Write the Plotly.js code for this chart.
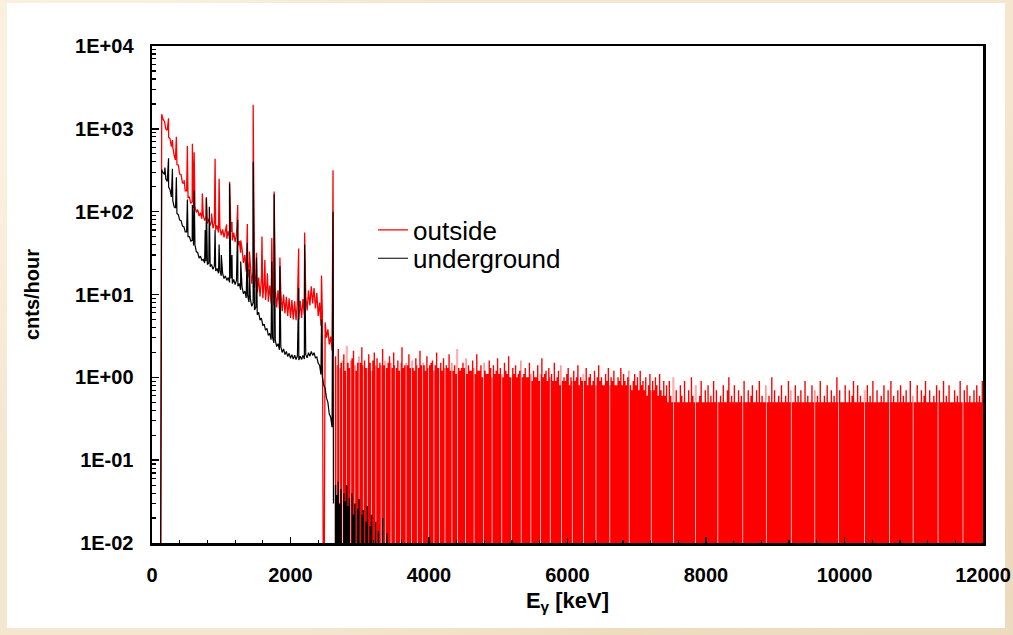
<!DOCTYPE html>
<html>
<head>
<meta charset="utf-8">
<script src="https://cdn.plot.ly/plotly-3.0.1.min.js"></script>
<style>
  html, body { margin: 0; padding: 0; width: 1013px; height: 635px; overflow: hidden; }
  body {
    background-color: #f4e6cf;
    background-image:
      radial-gradient(circle at 8% 15%, rgba(255,250,238,0.7), rgba(255,250,238,0) 35%),
      radial-gradient(circle at 95% 85%, rgba(228,204,168,0.55), rgba(228,204,168,0) 40%),
      radial-gradient(circle at 60% 100%, rgba(236,214,180,0.5), rgba(236,214,180,0) 35%);
  }
  #card { position: absolute; left: 7px; top: 3px; width: 998px; height: 625px; background: #ffffff; }
  #chart { position: absolute; left: 0; top: 0; width: 1013px; height: 635px; }
</style>
</head>
<body>
<div id="card"></div>
<div id="chart"></div>
<script>
// ---- energy grid (keV) for the binned spectra ----
const gridStep = 20;
const lowStartE = 120;   // first bin of the low-energy part
const highStartE = 2640; // first bin of the high-energy part

// ---- "outside" spectrum, cnts/hour, 120 ... 2620 keV (alternating values = noise band) ----
const outsideLow = [
  0, 1500, 1300, 1230, 1000, 960, 790, 760, 610, 600,
  480, 470, 370, 365, 285, 280, 222, 220, 178, 178,
  148, 150, 126, 132, 110, 116, 98, 106, 89, 97,
  82, 91, 78, 86, 72, 82, 68, 77, 63, 72,
  60, 68, 56, 64, 52, 61, 49, 59, 47, 58,
  47, 57, 45, 56, 43, 53, 39, 44, 32, 36,
  24, 30, 19, 25, 16, 21.5, 13.5, 19, 12, 17,
  10.5, 16, 9.5, 15, 9, 14, 8.6, 13.4, 8.2, 12.8,
  7.8, 12.2, 7.4, 11.6, 7, 11.2, 6.7, 10.6, 6.3, 10,
  5.9, 9.4, 5.5, 9, 5.2, 8.6, 5, 8.3, 4.9, 8.2,
  5, 8.4, 5.2, 8.8, 5.7, 9.6, 6.4, 11.2, 7.4, 12.6,
  7.8, 12, 6.8, 10.4, 5.5, 8, 4.2, 5.9, 0, 4.6,
  3, 3.8, 2.5, 3.1, 2.1, 1.9];

// ---- "underground" spectrum, cnts/hour, 120 ... 2620 keV ----
const undergroundLow = [
  0, 320, 295, 282, 248, 232, 198, 184, 150, 136,
  114, 111, 95, 92, 79, 78, 67, 66, 57, 57,
  50, 50, 44, 45, 39, 40, 33, 32, 27.5, 29,
  25.8, 26.5, 24, 25.2, 23, 24, 21.6, 23, 20.2, 22,
  19.2, 20.6, 18, 19.4, 16.8, 18, 15.6, 16.8, 14.8, 16,
  14, 15.6, 13.6, 15.2, 13.2, 14.8, 12.6, 13.6, 11.4, 12.4,
  10.2, 11, 9.1, 9.9, 8.1, 8.9, 7.2, 7.9, 6.5, 7,
  5.7, 6.1, 4.9, 5.2, 4.2, 4.4, 3.7, 3.9, 3.2, 3.4,
  2.85, 3.05, 2.6, 2.8, 2.35, 2.55, 2.15, 2.35, 2.0, 2.2,
  1.88, 2.05, 1.78, 1.95, 1.7, 1.88, 1.66, 1.85, 1.64, 1.82,
  1.62, 1.8, 1.64, 1.84, 1.66, 1.88, 1.72, 1.98, 1.8, 2.06,
  1.84, 1.98, 1.72, 1.76, 1.48, 1.4, 1.08, 1.02, 0.8, 0.74,
  0.56, 0.5, 0.36, 0.33, 0.25, 0.03];

// ---- gamma lines (keV) and their heights, cnts/hour (0 = not seen) ----
const peakE =           [186, 239, 295, 338, 352, 463, 511, 583, 609, 727, 768, 785, 828, 860, 911, 969, 1001, 1078, 1120, 1155, 1238, 1281, 1377, 1407, 1461, 1509, 1588, 1630, 1667, 1730, 1764, 1847, 2118, 2204, 2448, 2614];
const peakOutside =     [0, 1340, 730, 420, 800, 240, 620, 660, 520, 166, 0, 150, 0, 95, 435, 250, 0, 70, 230, 75, 120, 45, 71, 33, 1950, 32, 50, 26, 18, 48, 175, 28, 36, 56, 17, 316];
const peakUnderground = [340, 440, 330, 0, 260, 0, 140, 120, 180, 0, 60, 145, 115, 0, 60, 40, 30, 0, 218, 30, 80, 25, 42, 20, 400, 28, 0, 0, 0, 25, 162, 22, 12, 40, 5, 100];

// ---- "outside" spectrum, cnts/hour, 2640 ... 12000 keV ----
const outsideHigh = [
  1.8, 1.4, 2.2, 1.3, 1.5, 1.6, 1.9, 1.2, 2.4, 1.5,
  1.3, 1.6, 1.7, 2.1, 1.4, 1.2, 1.5, 1.8, 1.5, 2.3,
  1.4, 1.6, 1.3, 1.3, 1.9, 1.5, 1.2, 1.6, 2.0, 1.4,
  1.7, 1.3, 1.5, 1.4, 2.2, 1.4, 1.6, 1.3, 1.5, 1.8,
  1.5, 1.3, 2.0, 1.4, 1.3, 1.6, 1.2, 1.5, 2.3, 1.3,
  1.4, 1.5, 1.4, 1.9, 1.3, 1.6, 1.3, 1.2, 1.7, 1.4,
  1.3, 2.1, 1.4, 1.5, 1.4, 1.2, 1.8, 1.3, 1.4, 1.5,
  1.6, 1.2, 1.4, 2.0, 1.3, 1.3, 1.5, 1.2, 1.7, 1.3,
  1.4, 1.3, 1.9, 1.2, 1.5, 1.2, 1.4, 1.1, 2.2, 1.3,
  1.2, 1.3, 1.5, 1.3, 1.7, 1.1, 1.4, 1.2, 1.2, 1.6,
  1.3, 1.1, 1.9, 1.2, 1.2, 1.4, 1.0, 1.5, 1.2, 1.1,
  1.1, 1.6, 1.3, 1.0, 1.4, 1.1, 1.2, 1.7, 1.1, 1.3,
  1.1, 1.0, 1.5, 1.2, 1.1, 1.8, 1.0, 1.0, 1.3, 1.1,
  1.4, 1.0, 1.1, 1.2, 1.6, 1.0, 1.1, 1.3, 1.0, 1.0,
  1.5, 1.1, 0.9, 1.2, 1.0, 1.0, 1.4, 0.9, 1.1, 1.7,
  1.0, 1.1, 1.2, 0.9, 1.3, 1.0, 1.1, 0.9, 1.5, 0.9,
  1.0, 1.2, 0.8, 1.4, 0.9, 1.0, 0.9, 1.1, 1.3, 0.8,
  1.0, 0.9, 1.2, 0.9, 1.0, 1.4, 0.8, 1.0, 0.9, 1.1,
  0.9, 1.3, 0.8, 1.0, 1.1, 0.8, 0.9, 1.2, 0.8, 1.0,
  1.4, 0.9, 1.0, 0.8, 0.8, 1.1, 0.9, 1.3, 0.8, 1.0,
  0.9, 1.2, 0.8, 0.8, 1.0, 0.9, 1.3, 0.8, 1.1, 0.9,
  0.8, 1.0, 1.2, 0.8, 0.7, 0.9, 1.1, 0.8, 1.0, 0.7,
  1.2, 0.8, 0.9, 0.7, 1.0, 0.6, 0.8, 1.1, 0.7, 0.9,
  0.7, 1.0, 0.8, 0.6, 1.1, 0.7, 0.6, 0.9, 0.6, 0.8,
  0.5, 0.9, 0.6, 0.5, 1.0, 0.5, 0.7, 0.5, 0.5, 0.8,
  0.6, 0.5, 0.9, 0.5, 0.5, 0.7, 0.5, 1.0, 0.6, 0.5,
  0.8, 0.5, 0.5, 0.6, 0.9, 0.5, 0.5, 0.7, 0.5, 0.8,
  0.5, 0.6, 0.5, 0.9, 0.5, 0.7, 0.5, 0.5, 0.6, 0.5,
  0.8, 0.5, 0.5, 0.7, 1.0, 0.5, 0.6, 0.5, 0.8, 0.5,
  0.5, 0.7, 0.5, 0.6, 0.5, 0.9, 0.5, 0.5, 0.7, 0.5,
  0.6, 0.8, 0.5, 0.5, 0.7, 0.5, 0.9, 0.5, 0.6, 0.5,
  0.5, 0.8, 0.5, 0.6, 0.5, 1.0, 0.5, 0.7, 0.5, 0.5,
  0.6, 0.5, 0.8, 0.5, 0.5, 0.6, 0.5, 0.9, 0.5, 0.7,
  0.5, 0.5, 0.8, 0.5, 0.6, 0.5, 0.7, 0.5, 0.5, 0.9,
  0.5, 0.6, 0.5, 0.5, 0.8, 0.5, 0.7, 0.5, 0.6, 0.5,
  0.9, 0.5, 0.5, 0.6, 0.5, 0.8, 0.5, 0.5, 0.7, 0.5,
  0.6, 0.5, 1.0, 0.5, 0.7, 0.5, 0.5, 0.5, 0.8, 0.5,
  0.5, 0.7, 0.5, 0.6, 0.9, 0.5, 0.5, 0.8, 0.5, 0.6,
  0.5, 0.5, 0.7, 0.5, 0.8, 0.5, 0.6, 0.5, 0.9, 0.5,
  0.5, 0.7, 0.5, 0.5, 0.6, 0.5, 0.8, 0.5, 0.5, 0.7,
  0.5, 0.9, 0.5, 0.6, 0.5, 0.5, 0.7, 0.5, 0.8, 0.5,
  0.6, 0.5, 0.7, 0.5, 0.5, 0.9, 0.5, 0.6, 0.5, 0.5,
  0.8, 0.5, 0.5, 0.7, 0.5, 0.6, 0.9, 0.5, 0.5, 0.7,
  0.5, 0.5, 0.6, 0.5, 0.8, 0.5, 0.7, 0.5, 0.5, 0.9,
  0.5, 0.6, 0.5, 0.8, 0.5, 0.5, 0.5, 0.7, 0.5, 0.6,
  0.5, 0.9, 0.5, 0.5, 0.7, 0.5, 0.8, 0.5, 0.6, 0.5,
  0.5, 0.7, 0.5, 0.8, 0.5, 0.6, 0.5, 0.9, 0.9];

// ---- energies (keV) of empty channels in the "outside" high-energy part ----
const outsideEmptyE = [2664, 2706, 2748, 2806, 2866, 2924, 2986, 3046, 3104, 3166, 3228, 3304, 3366, 3446, 3508, 3586, 3664, 3744, 3826, 3904,
  3986, 4066, 4146, 4226, 4326, 4406, 4524, 4646, 4784, 4906, 5046, 5184, 5326, 5466, 5606, 5746, 5906, 6064, 6226, 6406,
  6606, 6886, 7204, 7526, 7846, 8166, 8526, 8866, 9226, 9566, 9906, 10286, 10646, 10986, 11346, 11706];

// ---- "underground" spectrum, cnts/hour, 2640 ... 3440 keV ----
const undergroundHigh = [
  0.05, 0.038, 0.055, 0.03, 0.045, 0, 0.04, 0.032, 0.05, 0.028,
  0.035, 0, 0.04, 0.022, 0.03, 0, 0.026, 0.034, 0, 0.022,
  0.025, 0, 0.018, 0.028, 0, 0.016, 0.022, 0, 0, 0.018,
  0, 0.014, 0, 0, 0.02, 0, 0, 0.013, 0, 0,
  0];

// ---- axis labels ----
const yTickVals = [0.01, 0.1, 1, 10, 100, 1000, 10000];
const yTickText = ['1E-02', '1E-01', '1E+00', '1E+01', '1E+02', '1E+03', '1E+04'];

// zero counts cannot sit on a log axis: draw them just below its bottom
const FLOOR = 1e-4;
const emptyChannelWidth = 10; // keV

function lowSeries(values, peakVals) {
  const pts = values.map((v, i) => [lowStartE + i * gridStep, v]);
  peakE.forEach((e, j) => { if (peakVals[j] > 0) pts.push([e, peakVals[j]]); });
  pts.sort((a, b) => a[0] - b[0]);
  return { x: pts.map(p => p[0]), y: pts.map(p => (p[1] > 0 ? p[1] : FLOOR)) };
}
function highSeries(values, emptyE) {
  const pts = values.map((v, i) => [highStartE + i * gridStep, v]);
  (emptyE || []).forEach(g => {
    const i = Math.floor((g - highStartE) / gridStep);
    if (i < 0 || i >= values.length - 1) return;
    const end = Math.min(g + emptyChannelWidth, highStartE + (i + 1) * gridStep - 2);
    pts.push([g, 0], [end, values[i]]);
  });
  pts.sort((a, b) => a[0] - b[0]);
  return { x: pts.map(p => p[0]), y: pts.map(p => (p[1] > 0 ? p[1] : FLOOR)) };
}

const oLow = lowSeries(outsideLow, peakOutside);
const uLow = lowSeries(undergroundLow, peakUnderground);
const oHigh = highSeries(outsideHigh, outsideEmptyE);
const uHigh = highSeries(undergroundHigh, []);

const RED = '#ff0000';
const BLACK = '#000000';

const traces = [
  { type: 'scatter', mode: 'lines', name: 'outside', x: oLow.x, y: oLow.y, legend: 'legend',
    line: { color: RED, width: 1.3 }, hoverinfo: 'skip' },
  { type: 'scatter', mode: 'lines', name: 'outside', x: oHigh.x, y: oHigh.y, showlegend: false,
    line: { color: RED, width: 0, shape: 'hv' }, fill: 'tozeroy', fillcolor: RED, hoverinfo: 'skip' },
  { type: 'scatter', mode: 'lines', name: 'underground', x: uLow.x, y: uLow.y, legend: 'legend2',
    line: { color: BLACK, width: 1.2 }, hoverinfo: 'skip' },
  { type: 'scatter', mode: 'lines', name: 'underground', x: uHigh.x, y: uHigh.y, showlegend: false,
    line: { color: BLACK, width: 0, shape: 'hv' }, fill: 'tozeroy', fillcolor: BLACK, hoverinfo: 'skip' }
];

const FONT = 'Arial, "Liberation Sans", "DejaVu Sans", sans-serif';
const legendFont = { family: FONT, size: 26, color: '#000000' };

const layout = {
  width: 1013, height: 635,
  margin: { l: 152, r: 30, t: 46, b: 92, pad: 0 },
  paper_bgcolor: 'rgba(0,0,0,0)',
  plot_bgcolor: '#ffffff',
  font: { family: FONT, color: '#000000' },
  showlegend: true,
  legend: { x: 0.266, y: 0.677, xanchor: 'left', yanchor: 'top', bgcolor: 'rgba(0,0,0,0)', borderwidth: 0, font: legendFont },
  legend2: { x: 0.266, y: 0.620, xanchor: 'left', yanchor: 'top', bgcolor: 'rgba(0,0,0,0)', borderwidth: 0, font: legendFont },
  xaxis: {
    type: 'linear', range: [0, 12000], dtick: 2000, tick0: 0, tickformat: 'd',
    ticks: 'inside', ticklen: 6, tickwidth: 1.5, tickcolor: '#000',
    minor: { dtick: 400, ticks: 'inside', ticklen: 3.5, tickwidth: 1.2, tickcolor: '#000', showgrid: false },
    showline: true, linewidth: 2.5, linecolor: '#000', mirror: true,
    showgrid: false, zeroline: false,
    tickfont: { family: FONT, size: 20, weight: 'bold', color: '#000' },
    ticklabelstandoff: 12,
    title: { text: 'E<sub>γ</sub> [keV]', font: { family: FONT, size: 22, weight: 'bold', color: '#000' }, standoff: 8 }
  },
  yaxis: {
    type: 'log', range: [-2, 4],
    tickmode: 'array', tickvals: yTickVals, ticktext: yTickText,
    ticks: 'inside', ticklen: 7, tickwidth: 1.5, tickcolor: '#000',
    minor: { dtick: 'D1', ticks: 'inside', ticklen: 4, tickwidth: 1.2, tickcolor: '#000', showgrid: false },
    showline: true, linewidth: 2.5, linecolor: '#000', mirror: true,
    showgrid: false, zeroline: false,
    tickfont: { family: FONT, size: 20, weight: 'bold', color: '#000' },
    ticklabelstandoff: 12,
    title: { text: 'cnts/hour', font: { family: FONT, size: 20, weight: 'bold', color: '#000' }, standoff: 30 }
  }
};

Plotly.newPlot('chart', traces, layout, { staticPlot: true, displayModeBar: false, responsive: false });
</script>
</body>
</html>
